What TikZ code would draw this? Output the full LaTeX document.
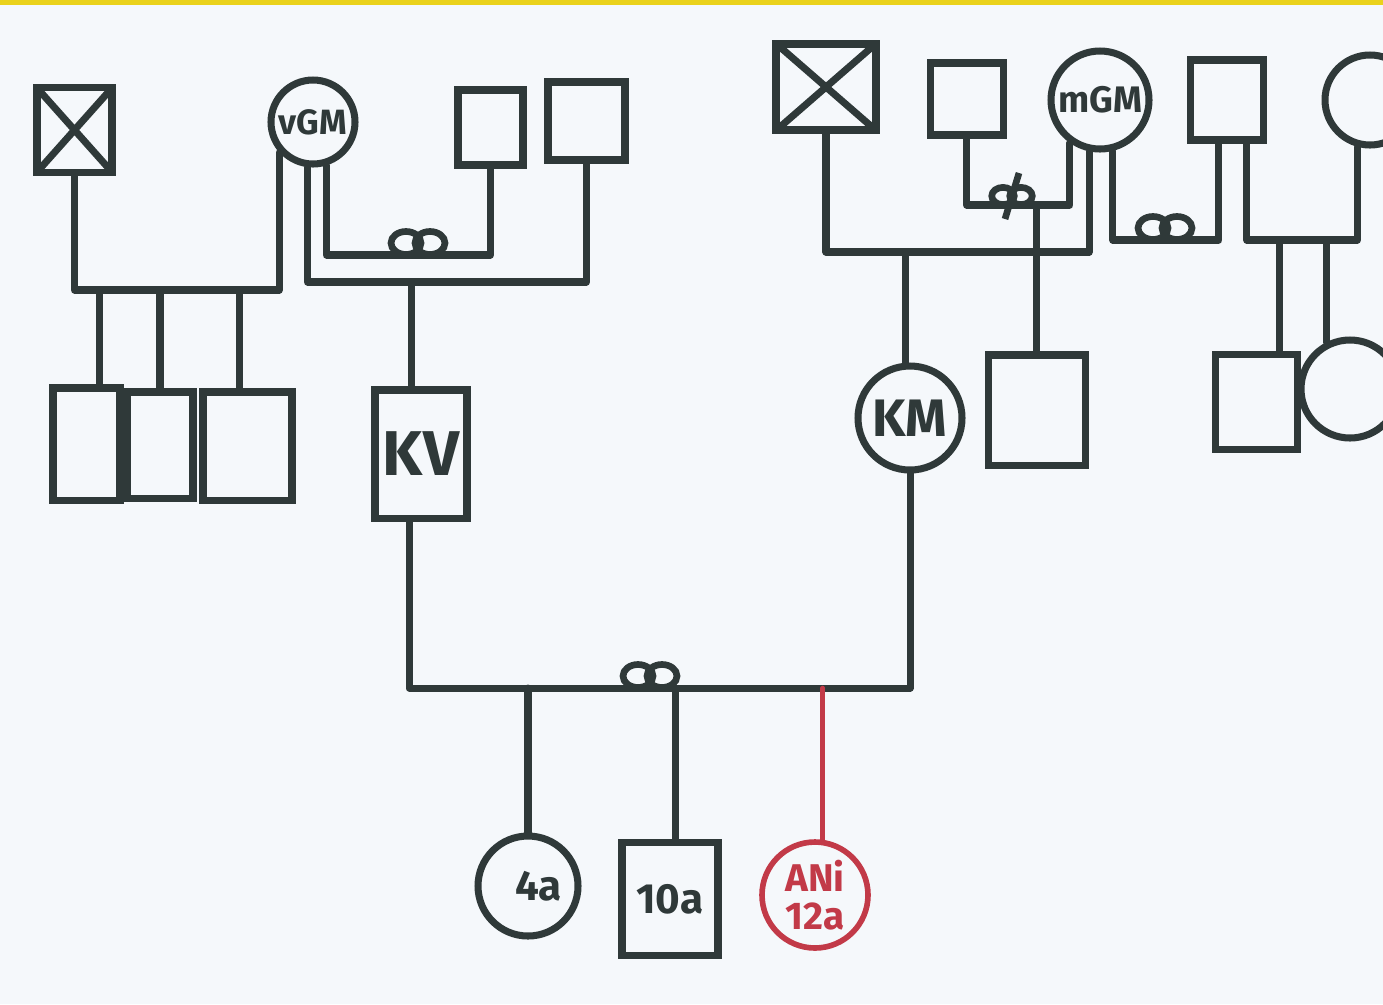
\documentclass[tikz,border=0pt]{standalone}
\usepackage{fontspec}
\setmainfont{Fira Sans}
\usepackage{xcolor}
\usepackage{tikz}
\usetikzlibrary{calc}

\definecolor{ink}{HTML}{2F3939}
\definecolor{redink}{HTML}{C23A48}
\definecolor{paper}{HTML}{F5F8FB}
\definecolor{tape}{HTML}{EAD21C}

% two linked rings sitting on a couple line
\newcommand{\rings}[2][1]{%
  \begin{scope}[shift={(#2)},scale=#1]
    \draw[ring] (-0.12,0.12) ellipse (0.15 and 0.115);
    \draw[ring] (0.12,0.12) ellipse (0.15 and 0.115);
  \end{scope}}

\begin{document}
\begin{tikzpicture}[line width=2pt,
  person/.style={draw=ink,line width=2pt,inner sep=0pt,text=ink},
  male/.style={person,rectangle},
  female/.style={person,circle},
  link/.style={draw=ink,line width=2pt,line cap=round,line join=round},
  cross/.style={draw=ink,line width=2pt,shorten <=1.2pt,shorten >=1.2pt},
  ring/.style={draw=ink,line width=1.9pt}]
\fill[paper] (0,0) rectangle (13.83,-10.04);
\fill[tape] (0,0) rectangle (13.83,-0.05);
\useasboundingbox (0,0) rectangle (13.83,-10.04);

% father's side
\node[male,minimum width=0.75cm,minimum height=0.85cm] (xl) at (0.745,-1.30) {};
\draw[cross] (xl.north west) -- (xl.south east);
\draw[cross] (xl.north east) -- (xl.south west);
\node[female,minimum size=0.84cm,font=\bfseries\fontsize{10}{12}\selectfont] (vgm) at (3.13,-1.22) {vGM};
\node[male,minimum width=0.65cm,minimum height=0.75cm] (sa) at (4.905,-1.275) {};
\node[male,minimum width=0.77cm,minimum height=0.78cm] (sb) at (5.865,-1.21) {};

\coordinate (m1) at (1.80,-2.90);
\draw[link] (xl.south) |- (m1) -| (vgm.222);
\node[male,minimum width=0.67cm,minimum height=1.12cm] (c1) at (0.865,-4.44) {};
\node[male,minimum width=0.66cm,minimum height=1.06cm] (c2) at (1.60,-4.45) {};
\node[male,minimum width=0.89cm,minimum height=1.08cm] (c3) at (2.475,-4.46) {};
\draw[link] (m1 -| c1.78) -- (c1.78);
\draw[link] (m1 -| c2.north) -- (c2.north);
\draw[link] (m1 -| c3.98) -- (c3.98);

\coordinate (m2) at (4.15,-2.82);
\draw[link] (vgm.263) |- (m2) -| (sb.south);
\node[male,minimum width=0.92cm,minimum height=1.28cm,font=\bfseries\fontsize{18}{20}\selectfont] (kv) at (4.21,-4.54) {KV};
\draw[link] (m2 -| kv.98) -- (kv.98);

\coordinate (m3) at (4.18,-2.55);
\draw[link] (vgm.287) |- (m3) -| (sa.south);
\rings{m3}

% mother's side
\node[male,minimum width=1.00cm,minimum height=0.86cm] (xr) at (8.26,-0.87) {};
\draw[cross] (xr.north west) -- (xr.south east);
\draw[cross] (xr.north east) -- (xr.south west);
\node[male,minimum width=0.73cm,minimum height=0.72cm] (sc) at (9.665,-0.99) {};
\node[female,minimum size=0.98cm,font=\bfseries\fontsize{10.5}{12}\selectfont] (mgm) at (11.00,-1.00) {mGM};
\node[male,minimum width=0.73cm,minimum height=0.80cm] (sd) at (12.265,-1.00) {};
\node[female,minimum size=0.90cm] (ce) at (13.70,-1.00) {};

\coordinate (m4) at (9.06,-2.52);
\draw[link] (xr.south) |- (m4) -| (mgm.258);
\node[female,minimum size=1.04cm,font=\bfseries\fontsize{15}{17}\selectfont] (km) at (9.10,-4.18) {KM};
\draw[link] (m4 -| km.95) -- (km.95);

\coordinate (m5) at (10.12,-2.05);
\draw[link] (sc.south) |- (m5) -| (mgm.235);
\rings[0.75]{m5}
\draw[ring] ($(m5)+(0.07,0.32)$) -- ($(m5)+(-0.07,-0.14)$);
\node[male,minimum width=0.97cm,minimum height=1.10cm] (sf) at (10.365,-4.10) {};
\draw[link] (m5 -| sf.north) -- (sf.north);

\coordinate (m6) at (11.65,-2.40);
\draw[link] (mgm.284) |- (m6) -| (sd.260);
\rings{m6}

\coordinate (m7) at (13.00,-2.40);
\draw[link] (sd.295) |- (m7) -| (ce.255);
\node[male,minimum width=0.82cm,minimum height=0.95cm] (sg) at (12.56,-4.02) {};
\node[female,minimum size=0.98cm] (sh) at (13.50,-3.89) {};
\draw[link] (m7 -| sg.65) -- (sg.65);
\draw[link] (m7 -| sh.117) -- (sh.117);

% parents and children
\coordinate (m8) at (6.50,-6.88);
\draw[link] (kv.260) |- (m8) -| (km.south);
\rings{m8}
\node[female,minimum size=1.00cm,font=\bfseries\fontsize{12}{14}\selectfont] (d1) at (5.28,-8.86) {\raisebox{-6pt}{\hspace{6pt}4a}};
\node[male,minimum width=0.96cm,minimum height=1.13cm,font=\bfseries\fontsize{12}{14}\selectfont] (d2) at (6.70,-8.985) {\raisebox{-9pt}{10a}};
\node[female,draw=redink,text=redink,line width=1.6pt,minimum size=1.06cm,align=center,
  font=\bfseries\fontsize{11}{11}\selectfont] (ani) at (8.15,-8.95) {ANi\\12a};
\draw[link] (m8 -| d1.north) -- (d1.north);
\draw[link] (m8 -| d2.85) -- (d2.85);
\draw[link,draw=redink,line width=1.3pt] (m8 -| ani.82) -- (ani.82);
\end{tikzpicture}
\end{document}
